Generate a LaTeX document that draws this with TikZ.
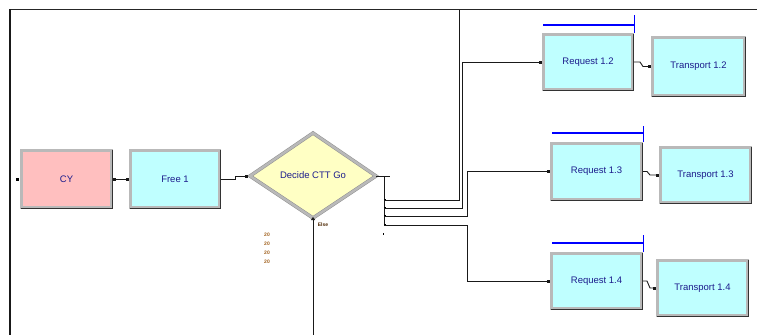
\documentclass[tikz,border=0pt]{standalone}
\usepackage{fontspec}
\setmainfont{Liberation Sans}
\usetikzlibrary{arrows.meta}
\definecolor{pinkfill}{HTML}{FFBFBF}
\definecolor{cyanfill}{HTML}{BFFFFF}
\definecolor{yellowfill}{HTML}{FFFFC4}
\definecolor{navytext}{HTML}{1C1C8C}
\definecolor{queueblue}{HTML}{0000FF}
\definecolor{tinylbl}{HTML}{A0601C}
\begin{document}
\begin{tikzpicture}[x=1pt,y=-1pt,
  box/.style={draw=gray!85, double=gray!55, double distance=2.4pt, line width=0.55pt,
    inner sep=0pt, outer sep=0pt, font=\fontsize{9.5}{11}\selectfont, text=navytext},
  conn/.style={draw=black!90, line width=0.9pt},
  sqtip/.tip={Square[length=3pt,width=3pt]},
  queue/.style={draw=queueblue, line width=1.6pt},
  tinytxt/.style={font=\fontsize{5}{5}\selectfont\bfseries, text=tinylbl, inner sep=0pt},
  bevel/.style={draw=gray!40!black, line width=1pt}
]
\useasboundingbox (0,0) rectangle (757,335);

% frame lines
\draw[black!85, line width=1.5pt] (9,9.5) -- (757,9.5);
\draw[black!90, line width=2pt] (10,9) -- (10,335);

% boxes
\node[box, fill=pinkfill, minimum width=90pt, minimum height=57pt] (cy) at (66.5,179) {CY};
\node[box, fill=cyanfill, minimum width=89pt, minimum height=57pt] (free) at (175,179) {Free 1};
\node[box, fill=cyanfill, minimum width=89pt, minimum height=55pt] (req12) at (588,62) {Request 1.2};
\node[box, fill=cyanfill, minimum width=92pt, minimum height=58pt] (tr12) at (698.5,66.5) {Transport 1.2};
\node[box, fill=cyanfill, minimum width=90pt, minimum height=56pt] (req13) at (596.5,171.5) {Request 1.3};
\node[box, fill=cyanfill, minimum width=90pt, minimum height=55pt] (tr13) at (705.5,175) {Transport 1.3};
\node[box, fill=cyanfill, minimum width=90pt, minimum height=55pt] (req14) at (596.5,281) {Request 1.4};
\node[box, fill=cyanfill, minimum width=90pt, minimum height=55pt] (tr14) at (702.5,288) {Transport 1.4};

\foreach \n in {cy,free,req12,tr12,req13,tr13,req14,tr14}{
  \draw[bevel] ([xshift=-0.5pt,yshift=-1.4pt]\n.south west) -- ([xshift=1.4pt,yshift=-1.4pt]\n.south east) -- ([xshift=1.4pt,yshift=0.5pt]\n.north east);
}

% decide diamond
\coordinate (dl) at (250,176);
\coordinate (dt) at (313,133);
\coordinate (dr) at (376,176);
\coordinate (db) at (313,218);
\draw[draw=gray!85, double=gray!55, double distance=2.4pt, line width=0.55pt, fill=yellowfill] (dl) -- (dt) -- (dr) -- (db) -- cycle;
\node[font=\fontsize{9.5}{11}\selectfont, text=navytext] (decide) at (313,175) {Decide CTT Go};

% queues
\draw[queue] (543,25) -- (634,25); \draw[queue] (634.5,15) -- (634.5,33);
\draw[queue] (552,133) -- (643,133); \draw[queue] (643.5,126) -- (643.5,142);
\draw[queue] (552,243) -- (643,243); \draw[queue] (643.5,235) -- (643.5,252);

% entry into CY
\node[fill=black, minimum size=3pt, inner sep=0pt] (cyin) at (17.5,179) {};

% connectors
\draw[conn, sqtip-sqtip, shorten >=1.5pt, shorten <=1.5pt] (cy.east) -- (free.west);
\coordinate (fr1) at (235,179);
\coordinate (fr2) at (235,176);
\draw[conn, -sqtip] ([xshift=1.5pt]free.east) -- (fr1) -- (fr2) -- ([xshift=-2pt]dl);

% decide outputs
\coordinate (bus0) at (390,176);
\coordinate (bus1) at (384,176);
\coordinate (e1) at (384,200);
\coordinate (e2) at (384,208);
\coordinate (e3) at (384,216);
\coordinate (e4) at (384,225);
\coordinate (topend) at (459,9.5);
\draw[conn] (dr) -- (bus0);
\draw[conn] (bus1) -- (e4);
\foreach \e in {e1,e2,e3,e4}{\fill[black] ([xshift=-0.5pt,yshift=-1.3pt]\e) rectangle ([xshift=2pt,yshift=1.3pt]\e);}
\draw[conn] (e1) -- (459,200) -- (topend);
\draw[conn, -sqtip, shorten >=1.5pt] (e2) -- (462,208) |- (req12.west);
\draw[conn, -sqtip, shorten >=1.5pt] (e3) -- (467,216) |- (req13.west);
\draw[conn, -sqtip, shorten >=1.5pt] (e4) -- (467,225) |- (req14.west);
\fill[black] (382.5,233) rectangle (384,235);

% else branch
\coordinate (elseend) at (313,335);
\draw[conn, {Triangle[length=3pt,width=4pt]}-] ([yshift=1pt]db) -- (elseend);
\node[tinytxt, text=black!70!orange] (elselbl) at (323,224.5) {Else};
\node[tinytxt] (n1) at (267,235) {20};
\node[tinytxt] (n2) at (267,244) {20};
\node[tinytxt] (n3) at (267,253) {20};
\node[tinytxt] (n4) at (267,262) {20};

% request -> transport
\draw[conn, -sqtip] ([xshift=1.5pt]req12.east) -- (640,62) -- (643,66.5) -- ([xshift=-1.5pt]tr12.west);
\draw[conn, -sqtip] ([xshift=1.5pt]req13.east) -- (647,171.5) -- (650,175) -- ([xshift=-1.5pt]tr13.west);
\draw[conn, -sqtip] ([xshift=1.5pt]req14.east) -- (647,281) -- (650,288) -- ([xshift=-1.5pt]tr14.west);
\end{tikzpicture}
\end{document}
